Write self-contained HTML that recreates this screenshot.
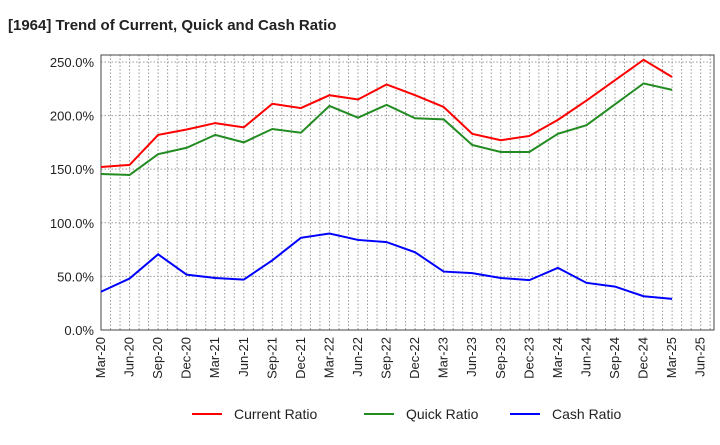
<!DOCTYPE html>
<html><head><meta charset="utf-8"><style>
body{margin:0;background:#fff;font-family:"Liberation Sans",sans-serif}
svg text{font-family:"Liberation Sans",sans-serif}
</style></head><body>
<svg width="720" height="440" xmlns="http://www.w3.org/2000/svg">
<text x="8" y="30" font-size="15" font-weight="bold" fill="#222">[1964]  Trend of Current, Quick and Cash Ratio</text>
<g id="grid"></g><g id="axes"></g><g id="series"></g>
<g>
<line x1="192" y1="414" x2="222" y2="414" stroke="#ff0000" stroke-width="2"/><text x="234" y="419" font-size="14" fill="#222">Current Ratio</text>
<line x1="364" y1="414" x2="394" y2="414" stroke="#228b22" stroke-width="2"/><text x="406" y="419" font-size="14" fill="#222">Quick Ratio</text>
<line x1="510" y1="414" x2="540" y2="414" stroke="#0000ff" stroke-width="2"/><text x="552" y="419" font-size="14" fill="#222">Cash Ratio</text>
</g>
</svg>
<script>
const categories=["Mar-20","Jun-20","Sep-20","Dec-20","Mar-21","Jun-21","Sep-21","Dec-21","Mar-22","Jun-22","Sep-22","Dec-22","Mar-23","Jun-23","Sep-23","Dec-23","Mar-24","Jun-24","Sep-24","Dec-24","Mar-25"];
const xTickLabels=["Mar-20","Jun-20","Sep-20","Dec-20","Mar-21","Jun-21","Sep-21","Dec-21","Mar-22","Jun-22","Sep-22","Dec-22","Mar-23","Jun-23","Sep-23","Dec-23","Mar-24","Jun-24","Sep-24","Dec-24","Mar-25","Jun-25"];
const yTicks=[0,50,100,150,200,250];
const currentRatio=[152,154,182,187,193,189,211,207,219,215,229,219,208,183,177,181,196,214,233,252,236];
const quickRatio=[145.5,144.6,164,170,182,175,187.5,184,209,198,210,197.5,196.5,172.6,166,166,183,191,210.5,230,224];
const cashRatio=[35.7,48,70.6,51.6,48.5,47,65,86,90,84,82,72.5,54.5,53,48.5,46.5,58,44,40.5,31.5,29];
const L=101,R=714,T=55,B=330;
const x=m=>L+(m/64.4)*(R-L);
const y=v=>B-(v/256.5)*(B-T);
const NS="http://www.w3.org/2000/svg";
function mk(t,a,p){const e=document.createElementNS(NS,t);for(const k in a)e.setAttribute(k,a[k]);p.appendChild(e);return e;}
const grid=document.getElementById('grid'),axes=document.getElementById('axes'),ser=document.getElementById('series');
for(let m=1;m<=64;m++){const l=mk('line',{x1:x(m),x2:x(m),y1:T,y2:B,stroke:'#999','stroke-dasharray':'1.5,2','stroke-width':1},grid);

}
yTicks.forEach(v=>{const l=mk('line',{x1:L,x2:R,y1:y(v),y2:y(v),stroke:'#999','stroke-dasharray':'1.5,2','stroke-width':1},grid);


const t=mk('text',{x:L-7,y:y(v)+5,'font-size':13,'text-anchor':'end',fill:'#222'},axes);t.textContent=v.toFixed(1)+'%';

});
xTickLabels.forEach((s,i)=>{const px=x(i*3);const t=mk('text',{transform:`translate(${px+4},${B+7}) rotate(-90)`,'font-size':13,'text-anchor':'end',fill:'#222'},axes);t.textContent=s;

});
const fr=mk('rect',{x:L,y:T,width:R-L,height:B-T,fill:'none',stroke:'#444','stroke-width':1},axes);


[[currentRatio,'#ff0000','current-ratio-line'],[quickRatio,'#228b22','quick-ratio-line'],[cashRatio,'#0000ff','cash-ratio-line']].forEach(([d,c,n])=>{
const p=mk('polyline',{points:d.map((v,i)=>x(i*3)+','+y(v)).join(' '),fill:'none',stroke:c,'stroke-width':2},ser);

});
</script>
</body></html>
